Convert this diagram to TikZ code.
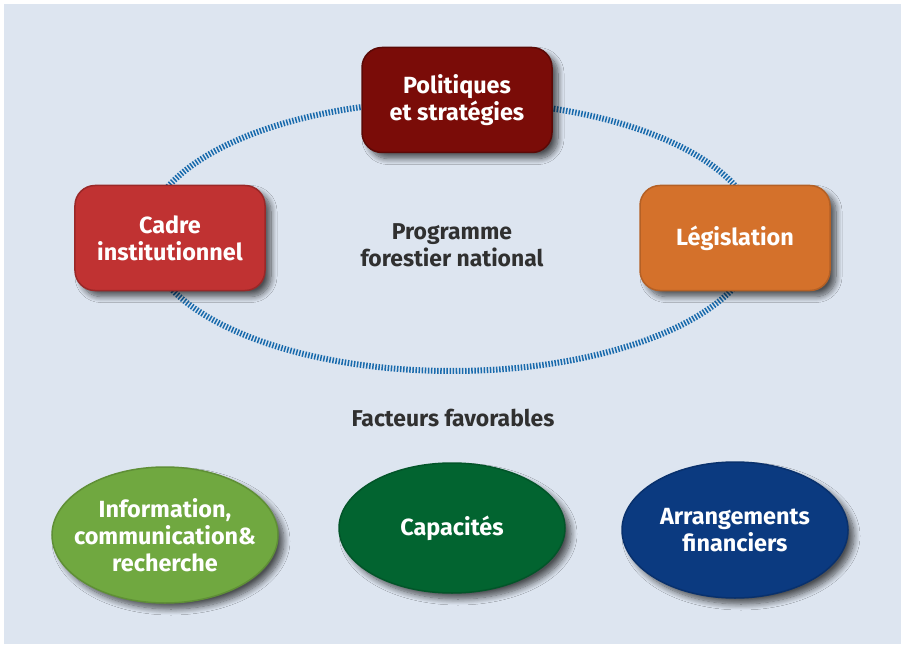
\documentclass[tikz,border=0pt]{standalone}
\usepackage{fontspec}
\setmainfont{Fira Sans}
\usetikzlibrary{shapes.geometric,shadows.blur}
\definecolor{bgc}{HTML}{DDE5F0}
\definecolor{ringc}{HTML}{186AAC}
\definecolor{polc}{HTML}{7A0C08}
\definecolor{cadc}{HTML}{C03232}
\definecolor{legc}{HTML}{D4712B}
\definecolor{infc}{HTML}{70A840}
\definecolor{capc}{HTML}{026430}
\definecolor{arrc}{HTML}{0B3A80}
\definecolor{txtc}{HTML}{303030}
\tikzset{
  shd/.style={blur shadow={shadow xshift=6bp, shadow yshift=-6bp, shadow blur steps=10, shadow blur radius=6bp, shadow opacity=65}},
  rbox/.style={rounded corners=20bp, minimum width=190bp, minimum height=105bp,
    text=white, align=center, font=\bfseries\fontsize{23.5}{27}\selectfont, line width=1.5bp, shd},
  ebox/.style={ellipse, minimum width=226bp, minimum height=134bp, inner sep=-40bp,
    text=white, align=center, font=\bfseries\fontsize{23.5}{27}\selectfont, line width=1.5bp, shd},
  ltext/.style={text=txtc, align=center, font=\bfseries\fontsize{23}{27}\selectfont},
  ring/.style={draw=ringc, line width=6bp, dash pattern=on 1.5bp off 1.6bp}
}
\begin{document}
\begin{tikzpicture}[x=1bp,y=-1bp]
\useasboundingbox (0,0) rectangle (904,647);
\fill[white] (0,0) rectangle (904,647);
\fill[bgc] (4,4) rectangle (901,644);
\coordinate (rc) at (452,236);
\draw[ring] (rc) ellipse [x radius=305, y radius=135];
\node[rbox, fill=polc, draw=polc!75!black] (pol) at (457,100) {Politiques\\et stratégies};
\node[rbox, fill=cadc, draw=cadc!80!black] (cad) at (170,238) {Cadre\\institutionnel};
\node[rbox, fill=legc, draw=legc!85!black] (leg) at (735,238) {Législation};
\node[ltext] (pfn) at (452,245) {Programme\\forestier national};
\node[ltext] (ff) at (453,418) {Facteurs favorables};
\node[ebox, fill=infc, draw=infc!85!black, minimum height=136bp] (inf) at (165,535) {Information,\\communication\&\\recherche};
\node[ebox, fill=capc, draw=capc!85!black, minimum height=130bp] (cap) at (452,528) {Capacités};
\node[ebox, fill=arrc, draw=arrc!85!black, minimum height=136bp] (arr) at (735,530) {Arrangements\\financiers};
\end{tikzpicture}
\end{document}
